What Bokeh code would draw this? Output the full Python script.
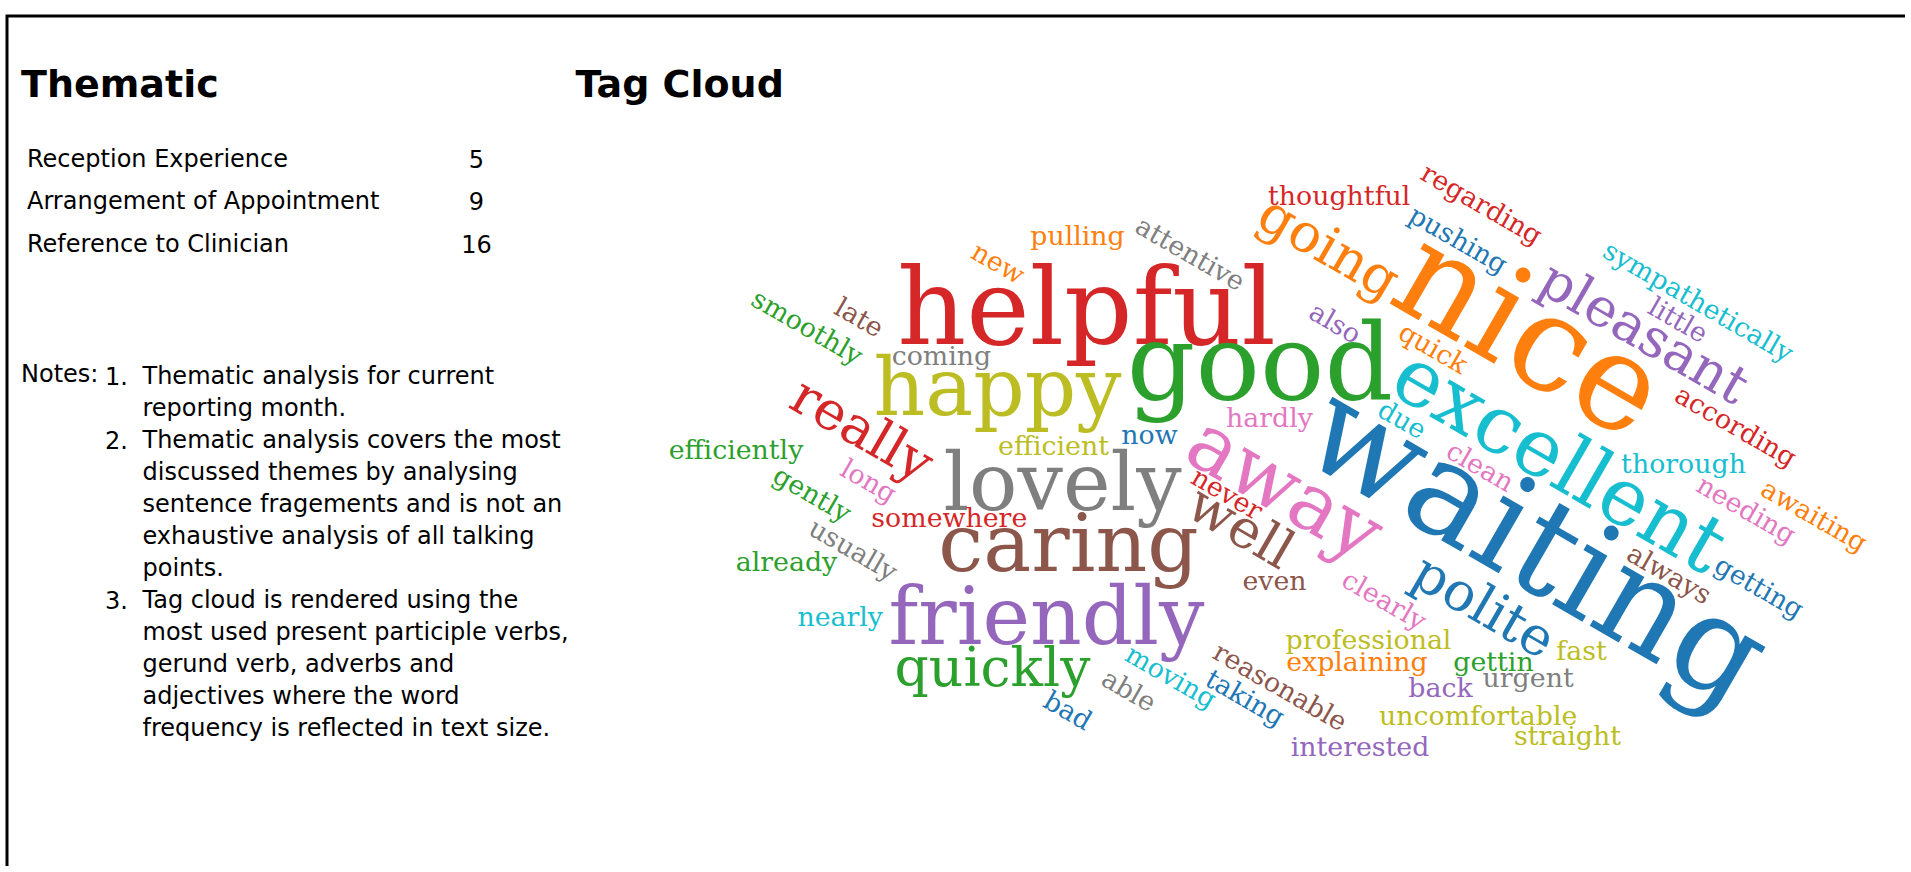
import math
from bokeh.plotting import figure
from bokeh.models import ColumnDataSource, Range1d
from bokeh.core.properties import value
from bokeh.embed import file_html
from bokeh.resources import INLINE

# ---------------- data ----------------
themes = ["Reception Experience", "Arrangement of Appointment", "Reference to Clinician"]
theme_counts = [5, 9, 16]

notes = [
    ["Thematic analysis for current", "reporting month."],
    ["Thematic analysis covers the most", "discussed themes by analysing",
     "sentence fragements and is not an", "exhaustive analysis of all talking", "points."],
    ["Tag cloud is rendered using the", "most used present participle verbs,",
     "gerund verb, adverbs and", "adjectives where the word",
     "frequency is reflected in text size."],
]

words = ["helpful", "good", "happy", "lovely", "caring", "friendly", "quickly",
         "coming", "pulling", "thoughtful", "efficient", "now", "hardly",
         "efficiently", "somewhere", "already", "nearly", "even", "professional",
         "explaining", "gettin", "urgent", "back", "fast", "uncomfortable",
         "straight", "interested", "thorough",
         "nice", "waiting", "excellent", "pleasant", "going", "away", "well",
         "really", "polite", "attentive", "new", "late", "smoothly", "long",
         "gently", "usually", "never", "due", "also", "quick", "clean", "clearly",
         "regarding", "pushing", "sympathetically", "little", "according",
         "needing", "awaiting", "always", "getting", "reasonable", "taking",
         "moving", "able", "bad"]
# word frequency (text size is proportional to it)
word_count = [4, 4, 3, 3, 3, 3, 2,
              1, 1, 1, 1, 1, 1,
              1, 1, 1, 1, 1, 1,
              1, 1, 1, 1, 1, 1,
              1, 1, 1,
              5, 5, 3, 2, 2, 3, 2,
              2, 2, 1, 1, 1, 1, 1,
              1, 1, 1, 1, 1, 1, 1, 1,
              1, 1, 1, 1, 1,
              1, 1, 1, 1, 1, 1,
              1, 1, 1]

# ---------------- layout / style ----------------
W, H = 1905, 866
PX_PER_COUNT = 26.8
K_SERIF = 0.41   # renderer offset of the alphabetic anchor (fraction of font size)
K_SANS = 0.38
CLOUD_DY = 2.5

T10 = {"blue": "#1f77b4", "orange": "#ff7f0e", "green": "#2ca02c", "red": "#d62728",
       "purple": "#9467bd", "brown": "#8c564b", "pink": "#e377c2", "gray": "#7f7f7f",
       "olive": "#bcbd22", "cyan": "#17becf"}

# horizontal words: (centre x, baseline y); rotated words: (box centre x, box centre y)
cloud_layout = {
    "helpful": (1086, 347.3, 0, "red"),
    "good": (1259.5, 402, 0, "green"),
    "happy": (997, 416.8, 0, "olive"),
    "lovely": (1062, 511.9, 0, "gray"),
    "caring": (1068, 572.8, 0, "brown"),
    "friendly": (1046, 646, 0, "purple"),
    "quickly": (992, 686, 0, "green"),
    "coming": (941, 363, 0, "gray"),
    "pulling": (1077, 243.7, 0, "orange"),
    "thoughtful": (1338.7, 203.5, 0, "red"),
    "efficient": (1053, 453.4, 0, "olive"),
    "now": (1149, 442.4, 0, "blue"),
    "hardly": (1269, 425.3, 0, "pink"),
    "efficiently": (735.5, 457, 0, "green"),
    "somewhere": (948.8, 525.3, 0, "red"),
    "already": (786, 569, 0, "green"),
    "nearly": (839.7, 624, 0, "cyan"),
    "even": (1274, 588.6, 0, "brown"),
    "professional": (1368, 647, 0, "olive"),
    "explaining": (1356.4, 669, 0, "orange"),
    "gettin": (1493, 669, 0, "green"),
    "urgent": (1527.6, 685, 0, "gray"),
    "back": (1440, 695, 0, "purple"),
    "fast": (1581, 658.5, 0, "olive"),
    "uncomfortable": (1477.7, 723, 0, "olive"),
    "straight": (1567, 743.4, 0, "olive"),
    "interested": (1359.5, 754.4, 0, "purple"),
    "thorough": (1683, 471.6, 0, "cyan"),
    "nice": (1521, 345, 1, "orange"),
    "waiting": (1528, 556, 1, "blue"),
    "excellent": (1554, 466, 1, "cyan"),
    "pleasant": (1640, 335.5, 1, "purple"),
    "going": (1325, 250, 1, "orange"),
    "away": (1279.5, 493.5, 1, "pink"),
    "well": (1237, 530, 1, "brown"),
    "really": (858, 432.5, 1, "red"),
    "polite": (1480, 609, 1, "blue"),
    "attentive": (1188, 253.5, 1, "gray"),
    "new": (996, 263, 1, "orange"),
    "late": (857, 317.5, 1, "brown"),
    "smoothly": (805, 327, 1, "green"),
    "long": (866.5, 481, 1, "pink"),
    "gently": (810, 494, 1, "green"),
    "usually": (851, 549.6, 1, "gray"),
    "never": (1225, 493.6, 1, "red"),
    "due": (1400, 419.5, 1, "cyan"),
    "also": (1333, 323, 1, "purple"),
    "quick": (1431, 348, 1, "orange"),
    "clean": (1478, 466.5, 1, "pink"),
    "clearly": (1382, 600, 1, "pink"),
    "regarding": (1479.5, 204, 1, "red"),
    "pushing": (1456, 239.5, 1, "blue"),
    "sympathetically": (1696, 301.6, 1, "cyan"),
    "little": (1676, 320, 1, "purple"),
    "according": (1733.5, 426, 1, "red"),
    "needing": (1744, 509.5, 1, "pink"),
    "awaiting": (1812, 515.5, 1, "orange"),
    "always": (1667, 574, 1, "brown"),
    "getting": (1757, 587, 1, "blue"),
    "reasonable": (1278, 686.7, 1, "brown"),
    "taking": (1243, 697.7, 1, "blue"),
    "moving": (1168.7, 676.4, 1, "cyan"),
    "able": (1126.7, 690.4, 1, "gray"),
    "bad": (1065.7, 710.5, 1, "blue"),
}

ROT = math.radians(30)


def dy(Y):
    return H - Y


p = figure(width=W, height=H, x_range=Range1d(0, W), y_range=Range1d(0, H),
           output_backend="svg", toolbar_location=None, min_border=0,
           x_axis_location=None, y_axis_location=None)
p.grid.visible = False
p.outline_line_color = None
p.background_fill_color = "white"
p.border_fill_color = "white"

# frame border (top and left edges visible, the rest runs past the page)
p.line(x=[6.5, 6.5, W + 20], y=[-20, dy(15.5), dy(15.5)], line_color="black",
       line_width=3, line_join="miter")

SANS = value("DejaVu Sans")


def sans_y(baseline, size):
    return dy(baseline - K_SANS * size)


# titles
p.text(x=[20.5, 575], y=[sans_y(97.5, 38)] * 2, text=["Thematic", "Tag Cloud"],
       text_font=SANS, text_font_size=value("38px"), text_font_style="bold",
       text_color="black", text_align="left", text_baseline="alphabetic")

# theme table
row_y = [167.5, 210, 252.5]
tsrc = ColumnDataSource(dict(x=[26.5] * len(themes), xn=[476] * len(themes),
                             y=[sans_y(v, 24) for v in row_y], name=themes,
                             cnt=[str(c) for c in theme_counts]))
p.text(x="x", y="y", text="name", source=tsrc, text_font=SANS,
       text_font_size=value("24px"), text_color="black", text_align="left",
       text_baseline="alphabetic")
p.text(x="xn", y="y", text="cnt", source=tsrc, text_font=SANS,
       text_font_size=value("24px"), text_color="black", text_align="center",
       text_baseline="alphabetic")

# notes
p.text(x=[20.5], y=[sans_y(383, 24)], text=["Notes:"], text_font=SANS,
       text_font_size=value("24px"), text_color="black", text_align="left",
       text_baseline="alphabetic")
nx, ny, nt, mx, my, mt = [], [], [], [], [], []
line_y = 385
for i, item in enumerate(notes):
    mx.append(104.5); my.append(sans_y(line_y, 24)); mt.append(f"{i + 1}.")
    for ln in item:
        nx.append(142); ny.append(sans_y(line_y, 24)); nt.append(ln)
        line_y += 32
p.text(x=mx, y=my, text=mt, text_font=SANS, text_font_size=value("24px"),
       text_color="black", text_align="left", text_baseline="alphabetic")
p.text(x=nx, y=ny, text=nt, text_font=SANS, text_font_size=value("24px"),
       text_color="black", text_align="left", text_baseline="alphabetic")

# tag cloud
cx, cy, ca, cs, cc = [], [], [], [], []
for w, n in zip(words, word_count):
    X, Y, rot, col = cloud_layout[w]
    Y += CLOUD_DY
    F = PX_PER_COUNT * n
    if rot:
        # baseline point = box centre + 0.27F "down" (in the rotated frame)
        ux, uy = -math.sin(ROT), math.cos(ROT)
        d = 0.27 * F - K_SERIF * F
        X, Y = X + ux * d, Y + uy * d
        ca.append(-ROT)
    else:
        Y = Y - K_SERIF * F
        ca.append(0.0)
    cx.append(X); cy.append(dy(Y))
    cs.append(f"{F:.1f}px")
    cc.append(T10[col])

csrc = ColumnDataSource(dict(x=cx, y=cy, text=words, angle=ca, size=cs, color=cc))
p.text(x="x", y="y", text="text", angle="angle", source=csrc,
       text_font=value("DejaVu Serif"), text_font_size="size", text_color="color",
       text_align="center", text_baseline="alphabetic")

open("out.html", "w").write(file_html(p, INLINE))
